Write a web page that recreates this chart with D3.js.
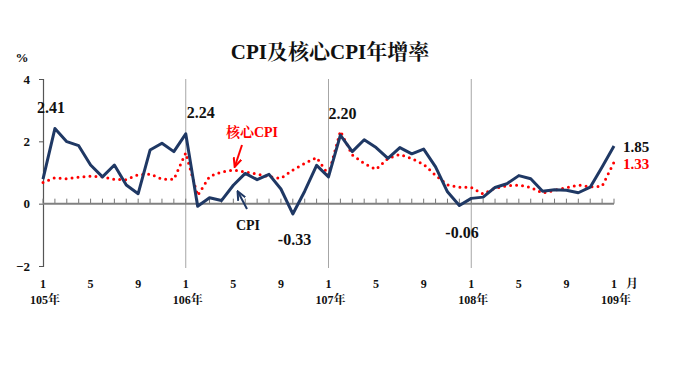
<!DOCTYPE html>
<html><head><meta charset="utf-8">
<script src="https://cdn.jsdelivr.net/npm/d3@7"></script>
<style>
html,body{margin:0;padding:0;background:#fff;}
text{font-family:"Liberation Serif","Noto Serif CJK TC","Noto Sans CJK TC",serif;font-weight:bold;}
</style></head>
<body><svg id="c" width="680" height="383"></svg>
<script>
const cpi = [0.79,2.41,1.99,1.86,1.24,0.86,1.24,0.60,0.32,1.72,1.94,1.67,
             2.24,-0.08,0.19,0.10,0.59,0.97,0.77,0.94,0.47,-0.33,0.40,1.23,
             0.86,2.20,1.67,2.05,1.80,1.45,1.80,1.60,1.75,1.18,0.38,-0.06,
             0.17,0.21,0.52,0.64,0.90,0.80,0.40,0.45,0.43,0.35,0.53,1.18,1.85];
const core = [0.68,0.83,0.80,0.85,0.88,0.86,0.78,0.77,0.93,0.95,0.79,0.78,
              1.63,0.26,0.87,1.02,1.08,1.02,0.95,0.87,0.81,1.08,1.29,1.48,
              0.93,2.33,1.56,1.29,1.10,1.45,1.58,1.45,1.26,0.91,0.60,0.53,
              0.52,0.31,0.50,0.57,0.60,0.52,0.34,0.43,0.51,0.60,0.54,0.56,1.33];
const monthLabels = ["1","5","9"];
const yearLabels = ["105年","106年","107年","108年","109年"];
const yTicks = [4,2,0,-2];
const title = "CPI及核心CPI年增率";

const svg = d3.select("#c");
const x = d3.scaleLinear().domain([0,48]).range([43,614]);
const y = d3.scaleLinear().domain([-2,4]).range([266,79]);

// title
svg.append("text").attr("x",330).attr("y",59).attr("text-anchor","middle")
  .attr("font-size",21).attr("fill","#111").text(title);
svg.append("text").attr("x",22).attr("y",62).attr("text-anchor","middle")
  .attr("font-size",13).attr("fill","#111").text("%");

// year separators
[12,24,36].forEach(i=>{
  svg.append("line").attr("x1",x(i)).attr("x2",x(i)).attr("y1",y(4)).attr("y2",y(-2)+2)
    .attr("stroke","#a6a6a6").attr("stroke-width",1);
});

// y axis
const ya = d3.axisLeft(y).tickValues(yTicks).tickSize(4).tickFormat(d3.format("d"));
const yg = svg.append("g").attr("transform",`translate(${x(0)},0)`).call(ya);
yg.select(".domain").attr("stroke","#555").attr("stroke-width",1.2);
yg.selectAll(".tick line").attr("stroke","#555");
yg.selectAll(".tick text").attr("font-size",13).attr("fill","#111").attr("dx",-6)
  .style("font-family","Liberation Serif").style("font-weight","bold");

// zero axis with month ticks
const months = d3.range(0,49);
svg.selectAll(".mt").data(months).enter().append("line")
  .attr("x1",d=>x(d)).attr("x2",d=>x(d)).attr("y1",y(0)).attr("y2",y(0)-5)
  .attr("stroke","#777").attr("stroke-width",1);
svg.append("line").attr("x1",x(0)).attr("x2",x(48)).attr("y1",y(0)).attr("y2",y(0))
  .attr("stroke","#808080").attr("stroke-width",2);

// month labels
const mIdx = d3.range(0,49,4);
svg.selectAll(".ml").data(mIdx).enter().append("text")
  .attr("x",d=>x(d)).attr("y",288).attr("text-anchor","middle")
  .attr("font-size",12).attr("fill","#111").text(d=>monthLabels[(d/4)%3]);
svg.append("text").attr("x",x(48)+18).attr("y",288).attr("text-anchor","middle")
  .attr("font-size",12).attr("fill","#111").text("月");
svg.selectAll(".yl").data(yearLabels).enter().append("text")
  .attr("x",(d,i)=>x(i*12)+2).attr("y",304).attr("text-anchor","middle")
  .attr("font-size",12).attr("fill","#111").text(d=>d);

// lines
const line = d3.line().x((d,i)=>x(i)).y(d=>y(d));
svg.append("path").datum(core).attr("d",line).attr("fill","none")
  .attr("stroke","#ff0000").attr("stroke-width",3).attr("stroke-linecap","round")
  .attr("stroke-dasharray","0 6");
svg.append("path").datum(cpi).attr("d",line).attr("fill","none")
  .attr("stroke","#1f3864").attr("stroke-width",3).attr("stroke-linejoin","round");

// value labels
const lab = (tx,xx,yy,col,fs)=>svg.append("text").attr("x",xx).attr("y",yy)
  .attr("font-size",fs||16).attr("fill",col).text(tx);
lab("2.41",x(1)-18,113,"#111");
lab("2.24",x(12)+1,118,"#111");
lab("2.20",x(25)-12,119,"#111");
lab("-0.33",x(21)-15,245,"#111");
lab("-0.06",x(35)-14,238,"#111");
lab("1.85",x(48)+9,152,"#111",15);
lab("1.33",x(48)+9,169,"#ff0000",15);

// annotations
svg.append("text").attr("x",252).attr("y",137).attr("text-anchor","middle")
  .attr("font-size",14).attr("fill","#ff0000").text("核心CPI");
svg.append("text").attr("x",248).attr("y",230).attr("text-anchor","middle")
  .attr("font-size",14).attr("fill","#111").text("CPI");

const defs = svg.append("defs");
[["ar","#ff0000"],["ab","#1f3864"]].forEach(([id,c])=>{
  defs.append("marker").attr("id",id).attr("viewBox","0 0 10 10").attr("refX",8).attr("refY",5)
    .attr("markerWidth",5).attr("markerHeight",5).attr("orient","auto")
    .append("path").attr("d","M0,1 L9,5 L0,9").attr("fill","none").attr("stroke",c).attr("stroke-width",2);
});
svg.append("line").attr("x1",242).attr("y1",145).attr("x2",235).attr("y2",166)
  .attr("stroke","#ff0000").attr("stroke-width",2).attr("marker-end","url(#ar)");
svg.append("line").attr("x1",247).attr("y1",209).attr("x2",238).attr("y2",192)
  .attr("stroke","#1f3864").attr("stroke-width",2).attr("marker-end","url(#ab)");
</script></body></html>
